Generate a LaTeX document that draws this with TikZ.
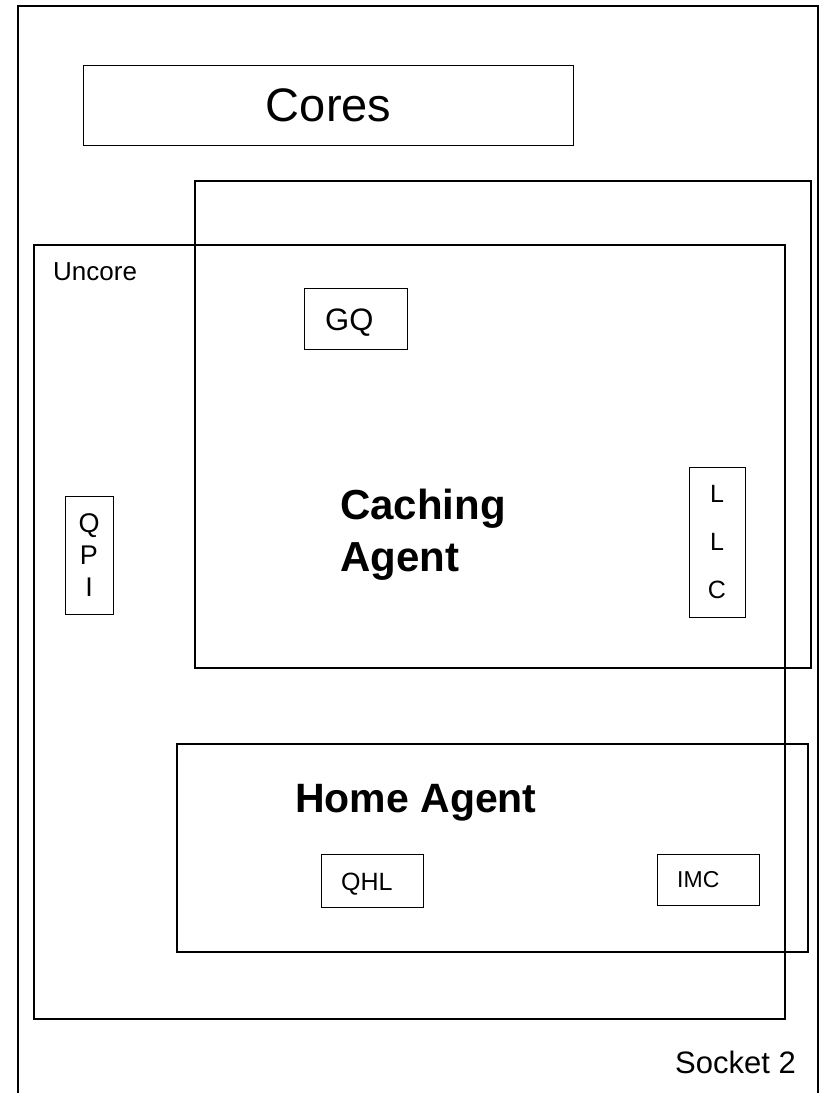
\documentclass[tikz,border=0pt]{standalone}
\usepackage{fontspec}
\setmainfont{Liberation Sans}
\begin{document}
\begin{tikzpicture}[x=1pt,y=-1pt,
  region/.style={draw, line width=1.7pt, inner sep=0pt, anchor=north west},
  unit/.style={draw, line width=1.3pt, inner sep=0pt, anchor=north west},
  lbl/.style={inner sep=0pt, text depth=0pt, anchor=base west},
  fs/.style={font=\fontsize{#1}{#1}\selectfont}]
\useasboundingbox (0,0) rectangle (821,1093);

% socket outline (runs off the bottom edge)
\node[region, minimum width=800pt, minimum height=1200pt] (socket) at (17,5) {};

% cores
\node[unit, minimum width=490pt, minimum height=80pt] (cores) at (83,65) {};
\node[fs=47, inner sep=0pt] (corestext) at (cores.center) {Cores};

% caching agent, uncore, home agent
\node[region, minimum width=616pt, minimum height=487pt] (caching) at (194,180) {};
\node[region, minimum width=751pt, minimum height=774pt] (uncore) at (33,244) {};
\node[region, minimum width=631pt, minimum height=208pt] (home) at (176,743) {};

\node[lbl, fs=26] (uncoretext) at (53,280) {Uncore};
\node[lbl, anchor=south west, align=left, font=\bfseries\fontsize{42}{52}\selectfont]
  (cachingtext) at (340,572) {Caching\\Agent};
\node[lbl, font=\bfseries\fontsize{41}{41}\selectfont] (hometext) at (295,812) {Home Agent};

% units
\node[unit, minimum width=103pt, minimum height=61pt] (gq) at (304,288) {};
\node[lbl, fs=31] (gqtext) at (325,330) {GQ};

\node[unit, minimum width=48pt, minimum height=118pt] (qpi) at (65,496) {};
\node[inner sep=0pt, text depth=0pt, anchor=south, align=center,
  font=\fontsize{27}{32}\selectfont] (qpitext) at (89,597) {Q\\P\\I};

\node[unit, minimum width=56pt, minimum height=150pt] (llc) at (689,467) {};
\node[inner sep=0pt, text depth=0pt, anchor=south, align=center,
  font=\fontsize{25}{48}\selectfont] (llctext) at (717,599) {L\\L\\C};

\node[unit, minimum width=102pt, minimum height=53pt] (qhl) at (321,854) {};
\node[lbl, fs=25] (qhltext) at (341,890) {QHL};

\node[unit, minimum width=102pt, minimum height=51pt] (imc) at (657,854) {};
\node[lbl, fs=23] (imctext) at (677,887) {IMC};

\node[lbl, fs=31] (sockettext) at (675,1073) {Socket 2};
\end{tikzpicture}
\end{document}
